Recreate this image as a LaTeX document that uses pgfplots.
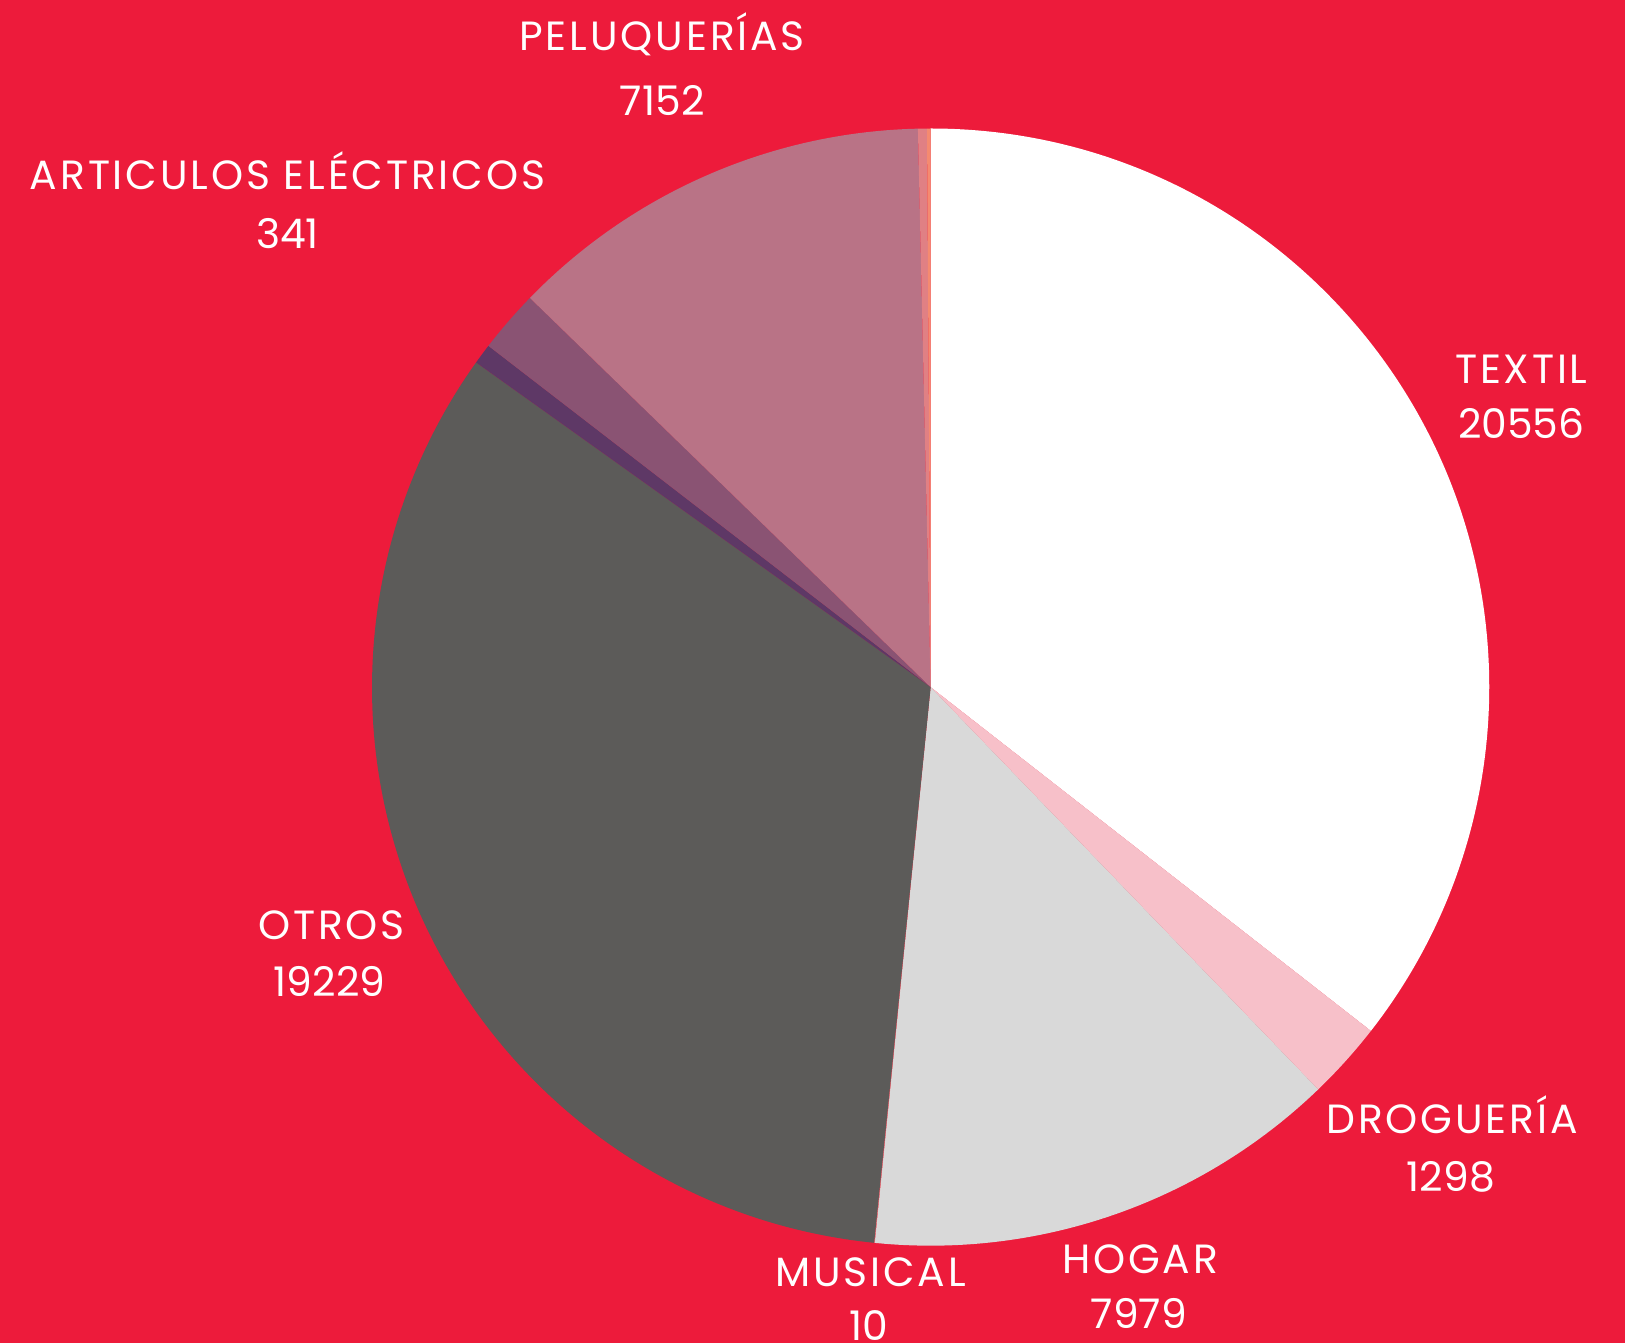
\documentclass[border=0pt]{standalone}
\usepackage{pgfplots}
\usepackage{pgfplotstable}
\pgfplotsset{compat=1.18}
\usepackage{fontspec}
\setmainfont{Poppins}
\newfontfamily\spacedfont{Poppins}[LetterSpace=7]
\definecolor{bgred}{HTML}{ED1B3B}
\definecolor{cTextil}{HTML}{FFFFFF}
\definecolor{cDrog}{HTML}{F7C0C9}
\definecolor{cHogar}{HTML}{D9D9D9}
\definecolor{cMusical}{HTML}{E87D80}
\definecolor{cOtros}{HTML}{5C5B59}
\definecolor{cArt}{HTML}{5E3866}
\definecolor{cMauve}{HTML}{8A5373}
\definecolor{cPelu}{HTML}{B97386}
\definecolor{cSalmon}{HTML}{E08084}
\definecolor{cOrange}{HTML}{F58A70}

\pgfplotstableread{
label value color
Textil 20556 cTextil
Drogueria 1298 cDrog
Hogar 7979 cHogar
Musical 10 cMusical
Otros 19229 cOtros
Articulos 341 cArt
Otro2 1045 cMauve
Peluquerias 7152 cPelu
Otro3 150 cSalmon
Otro4 60 cOrange
}\piedata

\newcommand\lblfont{\fontsize{19.7}{24}\selectfont}

\begin{document}
\begin{tikzpicture}
\pgfplotstablegetrowsof{\piedata}
\pgfmathtruncatemacro\lastrow{\pgfplotsretval-1}
\def\tot{0}
\pgfplotsforeachungrouped \i in {0,...,\lastrow}{%
  \pgfplotstablegetelem{\i}{value}\of\piedata
  \edef\tot{\fpeval{\tot+\pgfplotsretval}}%
}
\begin{axis}[x=0.5pt,y=0.5pt,scale only axis,
  xmin=0,xmax=1568,ymin=0,ymax=1296,hide axis,clip=false]
\fill[bgred] (axis cs:0,0) rectangle (axis cs:1568,1296);
\def\ang{90}
\pgfplotsforeachungrouped \i in {0,...,\lastrow}{%
  \pgfplotstablegetelem{\i}{value}\of\piedata \let\slv\pgfplotsretval
  \pgfplotstablegetelem{\i}{color}\of\piedata \let\slc\pgfplotsretval
  \edef\angEnd{\fpeval{round(\ang-360*\slv/\tot,4)}}%
  \edef\doit{\noexpand\fill[\slc] (axis cs:898,633) -- ++(\ang:269.5pt) arc[start angle=\ang, end angle=\angEnd, radius=269.5pt] -- cycle;}%
  \doit
  \let\ang\angEnd
}
\tikzset{lbl/.style={anchor=base,text=white,font=\lblfont,inner sep=0pt},
  word/.style={lbl,font=\spacedfont\lblfont}}
\node[word] at (axis cs:639,1247) {PELUQUERÍAS};
\node[lbl] at (axis cs:639,1185) {7152};
\node[word] at (axis cs:277.5,1112.7) {ARTICULOS ELÉCTRICOS};
\node[lbl] at (axis cs:277.5,1056.4) {341};
\node[word] at (axis cs:1468,926) {TEXTIL};
\node[lbl] at (axis cs:1468,873) {20556};
\node[word] at (axis cs:1401,202.4) {DROGUERÍA};
\node[lbl] at (axis cs:1400,146) {1298};
\node[word] at (axis cs:320,389.6) {OTROS};
\node[lbl] at (axis cs:318,334.3) {19229};
\node[word] at (axis cs:1100,67.3) {HOGAR};
\node[lbl] at (axis cs:1099,14.3) {7979};
\node[word] at (axis cs:840,55) {MUSICAL};
\node[lbl] at (axis cs:838.5,3) {10};
\end{axis}
\pgfresetboundingbox
\useasboundingbox (current axis.south west) rectangle (current axis.north east);
\end{tikzpicture}
\end{document}
